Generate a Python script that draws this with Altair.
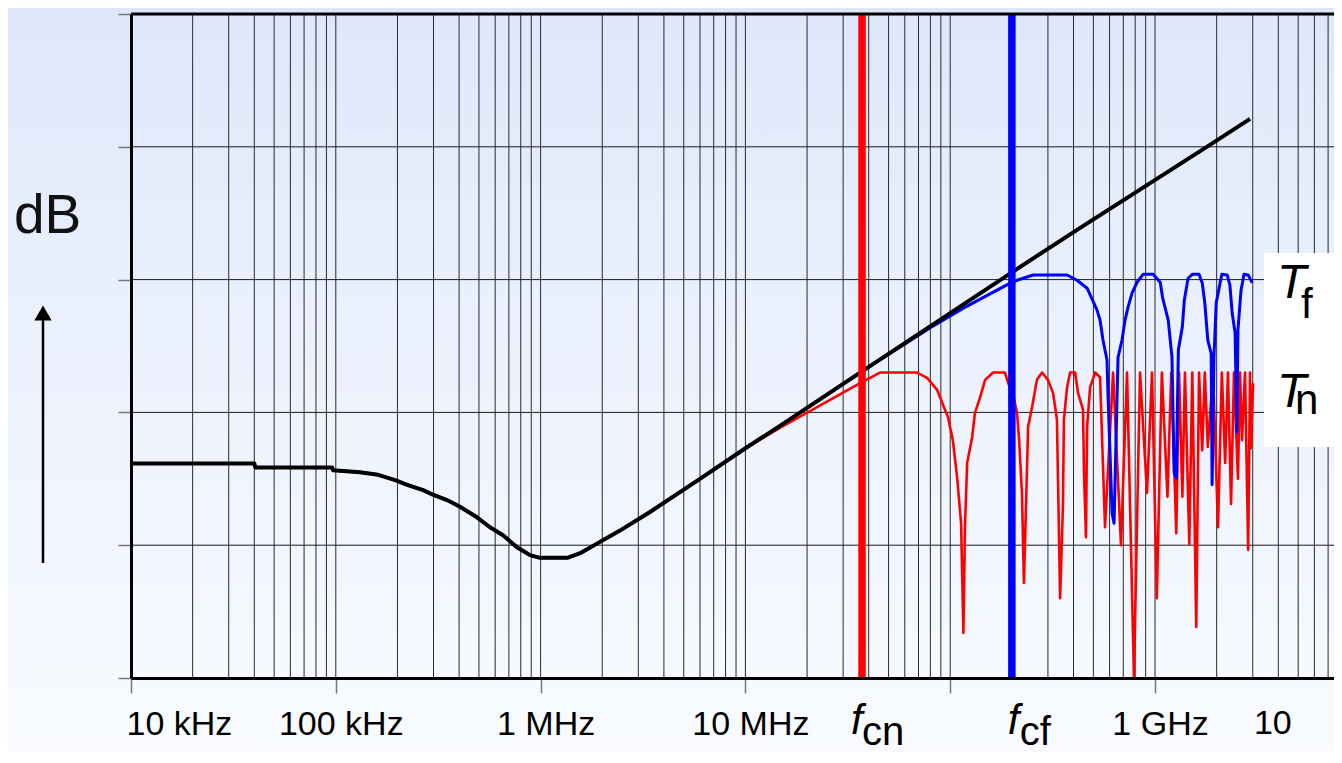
import altair as alt
import pandas as pd

# ---------------- data ----------------
# common low-frequency part (all three curves coincide)
base_freq = [1.0e4, 4.0e4, 4.05e4, 9.6e4, 9.69e4, 1.31e5, 1.61e5, 1.95e5, 2.23e5, 2.67e5,
             2.98e5, 3.49e5, 4.04e5, 4.89e5, 5.66e5, 6.55e5, 7.67e5, 8.88e5, 9.93e5, 1.35e6,
             1.56e6, 1.95e6, 2.44e6, 3.42e6, 6.0e6]
base_db = [32.3, 32.3, 31.7, 31.7, 31.3, 31.0, 30.6, 29.8, 29.1, 28.3,
           27.6, 26.8, 25.8, 24.2, 22.7, 21.5, 19.7, 18.5, 18.1, 18.1,
           18.8, 20.5, 22.2, 25.0, 30.0]

# black (asymptote) high-frequency part
black_freq = [1.0e7, 1.48e7, 3.63e7, 2.0e8, 4.31e8, 1.92e9, 2.91e9]
black_db = [34.6, 38.0, 46.0, 61.1, 67.8, 80.6, 84.2]

# T_f (blue) high-frequency part
tf_freq = [1.0e7, 1.48e7, 3.63e7, 7.96e7, 1.16e8, 1.89e8, 2.12e8, 2.54e8, 3.72e8, 4.16e8,
           4.66e8, 5.21e8, 5.39e8, 5.57e8, 5.83e8, 5.89e8, 6.17e8, 6.31e8, 6.52e8, 6.60e8,
           6.90e8, 7.14e8, 7.39e8, 7.73e8, 8.17e8, 8.74e8, 9.78e8, 1.06e9, 1.09e9, 1.16e9,
           1.21e9, 1.24e9, 1.27e9, 1.30e9, 1.36e9, 1.39e9, 1.45e9, 1.52e9, 1.64e9, 1.70e9,
           1.75e9, 1.81e9, 1.88e9, 1.90e9, 1.94e9, 1.99e9, 2.06e9, 2.12e9, 2.25e9, 2.32e9,
           2.38e9, 2.46e9, 2.51e9, 2.54e9, 2.63e9, 2.72e9, 2.85e9, 2.98e9]
tf_db = [34.6, 38.0, 46.0, 52.7, 55.7, 59.2, 59.9, 60.7, 60.7, 59.9,
         58.7, 55.4, 53.9, 50.9, 47.9, 42.9, 24.8, 23.3, 41.9, 48.3,
         50.9, 53.9, 55.9, 58.0, 59.6, 60.8, 60.8, 59.6, 57.2, 53.9,
         48.3, 30.9, 30.1, 49.4, 52.9, 56.9, 60.2, 60.8, 60.8, 59.5,
         56.5, 50.9, 48.9, 29.1, 48.3, 56.5, 58.9, 60.8, 60.7, 59.2,
         55.0, 52.0, 37.0, 52.4, 58.4, 60.8, 60.7, 59.5]

# T_n (red) high-frequency part
tn_freq = [1.0e7, 1.48e7, 3.63e7, 4.54e7, 6.89e7, 7.71e7, 8.63e7, 9.23e7, 9.75e7, 1.03e8,
           1.08e8, 1.13e8, 1.16e8, 1.18e8, 1.21e8, 1.28e8, 1.32e8, 1.40e8, 1.48e8, 1.62e8,
           1.85e8, 1.92e8, 2.03e8, 2.12e8, 2.17e8, 2.24e8, 2.29e8, 2.37e8, 2.40e8, 2.51e8,
           2.65e8, 2.81e8, 3.0e8, 3.18e8, 3.32e8, 3.36e8, 3.44e8, 3.55e8, 3.59e8, 3.72e8,
           3.85e8, 4.07e8, 4.21e8, 4.45e8, 4.50e8, 4.60e8, 4.66e8, 4.82e8, 5.10e8, 5.39e8,
           5.70e8, 6.24e8, 6.82e8, 7.30e8, 7.89e8, 8.45e8, 9.14e8, 9.67e8, 1.02e9, 1.08e9,
           1.15e9, 1.20e9, 1.27e9, 1.31e9, 1.36e9, 1.40e9, 1.47e9, 1.52e9, 1.59e9, 1.64e9,
           1.70e9, 1.75e9, 1.81e9, 1.92e9, 2.03e9, 2.12e9, 2.20e9, 2.27e9, 2.35e9, 2.43e9,
           2.54e9, 2.60e9, 2.66e9, 2.75e9, 2.85e9, 2.91e9, 2.94e9, 3.01e9]
tn_db = [34.6, 37.7, 44.4, 46.0, 46.0, 45.2, 43.4, 41.1, 39.3, 35.8,
         30.3, 23.3, 6.8, 22.7, 32.4, 36.3, 39.9, 42.3, 44.9, 46.0,
         46.0, 44.4, 42.6, 39.9, 35.8, 27.9, 14.3, 31.3, 37.8, 40.8,
         44.9, 46.0, 44.9, 42.9, 38.9, 29.8, 12.0, 25.8, 38.9, 43.8,
         46.0, 46.0, 42.9, 40.4, 30.9, 21.2, 37.8, 43.8, 46.0, 45.3,
         22.7, 46.0, 20.0, 46.0, 0.2, 46.0, 27.9, 46.0, 12.0, 46.0,
         27.3, 46.0, 21.8, 46.0, 27.3, 46.0, 20.2, 46.0, 7.7, 46.0,
         34.3, 46.0, 34.8, 46.0, 22.7, 46.0, 32.4, 46.0, 26.2, 46.0,
         30.0, 46.0, 35.8, 46.0, 19.3, 46.0, 34.6, 44.4]

# cutoff frequencies
cut_freq = [3.71e7, 2.0e8]
cut_color = ["#ff0000", "#0000ff"]
cut_sub = ["cn", "cf"]

# axis ticks / labels
tick_values = [1e4, 1e5, 1e6, 1e7, 1e8, 1e9]
tick_labels = ["10 kHz", "100 kHz", "1 MHz", "10 MHz", "", "1 GHz"]
edge_label_freq = 1e10
edge_label = "10"
db_ticks = [0, 20, 40, 60, 80, 100]

# ---------------- layout / style ----------------
FMIN, FMAX = 1.0e4, 7.48e9
W, H = 1203, 664
SANS = "Liberation Sans, Arial, sans-serif"

x_scale = alt.Scale(type="log", domain=[FMIN, FMAX], nice=False)
y_scale = alt.Scale(domain=[0, 100], nice=False, zero=False)

label_expr = " : ".join(f"datum.value == {v} ? '{l}'" for v, l in zip(tick_values, tick_labels)) + " : ''"
x_axis = alt.Axis(values=tick_values, labelExpr=label_expr, title=None, grid=False,
                  domainColor="black", domainWidth=3, tickColor="#777777", tickWidth=1.5,
                  tickSize=15, labelFont=SANS, labelFontSize=34, labelColor="black",
                  labelPadding=14, labelFlush=True, labelFlushOffset=10, labelOffset=5,
                  labelOverlap=False, zindex=1)
y_axis = alt.Axis(values=db_ticks, labels=False, title=None, grid=False,
                  domainColor="black", domainWidth=3, tickColor="#777777", tickWidth=1.5,
                  tickSize=13, zindex=1)

def X(field="f"):
    return alt.X(f"{field}:Q", scale=x_scale, axis=x_axis)

def Y(field="db"):
    return alt.Y(f"{field}:Q", scale=y_scale, axis=y_axis)

one = pd.DataFrame({"a": [0]})

# background gradient
bg = alt.Chart(one).mark_rect(
    fill=alt.LinearGradient(gradient="linear",
                            stops=[alt.GradientStop(offset=0, color="#dee7fa"),
                                   alt.GradientStop(offset=0.45, color="#ebf1fd"),
                                   alt.GradientStop(offset=1, color="#f9fbff")],
                            x1=0, x2=0, y1=0, y2=1)
).encode(x=alt.value(-131), x2=alt.value(1215), y=alt.value(-14), y2=alt.value(752))

# grid
vgrid_freq = [m * 10 ** k for k in range(4, 10) for m in range(1, 10) if FMIN < m * 10 ** k <= FMAX]
vgrid = alt.Chart(pd.DataFrame({"f": vgrid_freq})).mark_rule(
    color="#2a2a2a", strokeWidth=1).encode(x=X())
hgrid = alt.Chart(pd.DataFrame({"db": db_ticks[1:-1]})).mark_rule(
    color="#1a1a1a", strokeWidth=1).encode(y=Y())

# white label box
box = alt.Chart(one).mark_rect(fill="white").encode(
    x=alt.value(1133), x2=alt.value(1215), y=alt.value(239), y2=alt.value(433))

def curve(freq, db, color, width):
    df = pd.DataFrame({"f": base_freq + freq, "db": base_db + db})
    return alt.Chart(df).mark_line(color=color, strokeWidth=width, strokeJoin="round",
                                   clip=True).encode(x=X(), y=Y())

red = curve(tn_freq, tn_db, "#ff0000", 2.6)
blue = curve(tf_freq, tf_db, "#0000ff", 3)
black = curve(black_freq, black_db, "#000000", 4)

cuts = alt.Chart(pd.DataFrame({"f": cut_freq, "c": cut_color})).mark_rule(strokeWidth=7.5).encode(
    x=X(), color=alt.Color("c:N", scale=None))

top = alt.Chart(pd.DataFrame({"db": [100]})).mark_rule(color="black", strokeWidth=3).encode(y=Y())

# texts
db_text = alt.Chart(one).mark_text(text="dB", font=SANS, fontSize=55, align="left",
                                   baseline="alphabetic", color="#111111").encode(
    x=alt.value(-117), y=alt.value(219))
arrow_line = alt.Chart(one).mark_rule(color="black", strokeWidth=2.5).encode(
    x=alt.value(-88), y=alt.value(306), y2=alt.value(549))
arrow_head = alt.Chart(one).mark_point(shape="triangle-up", filled=True, size=300,
                                       color="black", opacity=1).encode(
    x=alt.value(-88), y=alt.value(299))

t_layers = []
for main_y, sub, sub_x, sub_y in [(284, "f", 1170, 304), (393, "n", 1164, 400)]:
    t_layers.append(alt.Chart(one).mark_text(text="T", font=SANS, fontStyle="italic",
                                             fontSize=48, align="left", baseline="alphabetic",
                                             color="black").encode(
        x=alt.value(1146), y=alt.value(main_y)))
    t_layers.append(alt.Chart(one).mark_text(text=sub, font=SANS, fontSize=42, align="left",
                                             baseline="alphabetic", color="black").encode(
        x=alt.value(sub_x), y=alt.value(sub_y)))

f_layers = []
for fr, sub, dxf, dxs in zip(cut_freq, cut_sub, [-11, -4], [0, 8]):
    d = pd.DataFrame({"f": [fr]})
    f_layers.append(alt.Chart(d).mark_text(text="f", font=SANS, fontStyle="italic", fontSize=42,
                                           align="left", baseline="alphabetic", dx=dxf,
                                           color="black").encode(x=X(), y=alt.value(720)))
    f_layers.append(alt.Chart(d).mark_text(text=sub, font=SANS, fontSize=40, align="left",
                                           baseline="alphabetic", dx=dxs,
                                           color="black").encode(x=X(), y=alt.value(731)))

edge = alt.Chart(pd.DataFrame({"f": [edge_label_freq]})).mark_text(
    text=edge_label, font=SANS, fontSize=34, align="center", baseline="top", dx=-87,
    color="black").encode(x=X(), y=alt.value(693))

chart = alt.layer(bg, vgrid, hgrid, box, red, blue, black, cuts, top,
                  db_text, arrow_line, arrow_head, *t_layers, *f_layers, edge).properties(
    width=W, height=H,
    autosize=alt.AutoSizeParams(type="none"),
    padding={"left": 123, "top": 6, "right": 0, "bottom": 74},
    background="#f3f6fe",
).configure_view(stroke=None)

chart.save("out.html", embed_options={"renderer": "svg", "actions": False})
